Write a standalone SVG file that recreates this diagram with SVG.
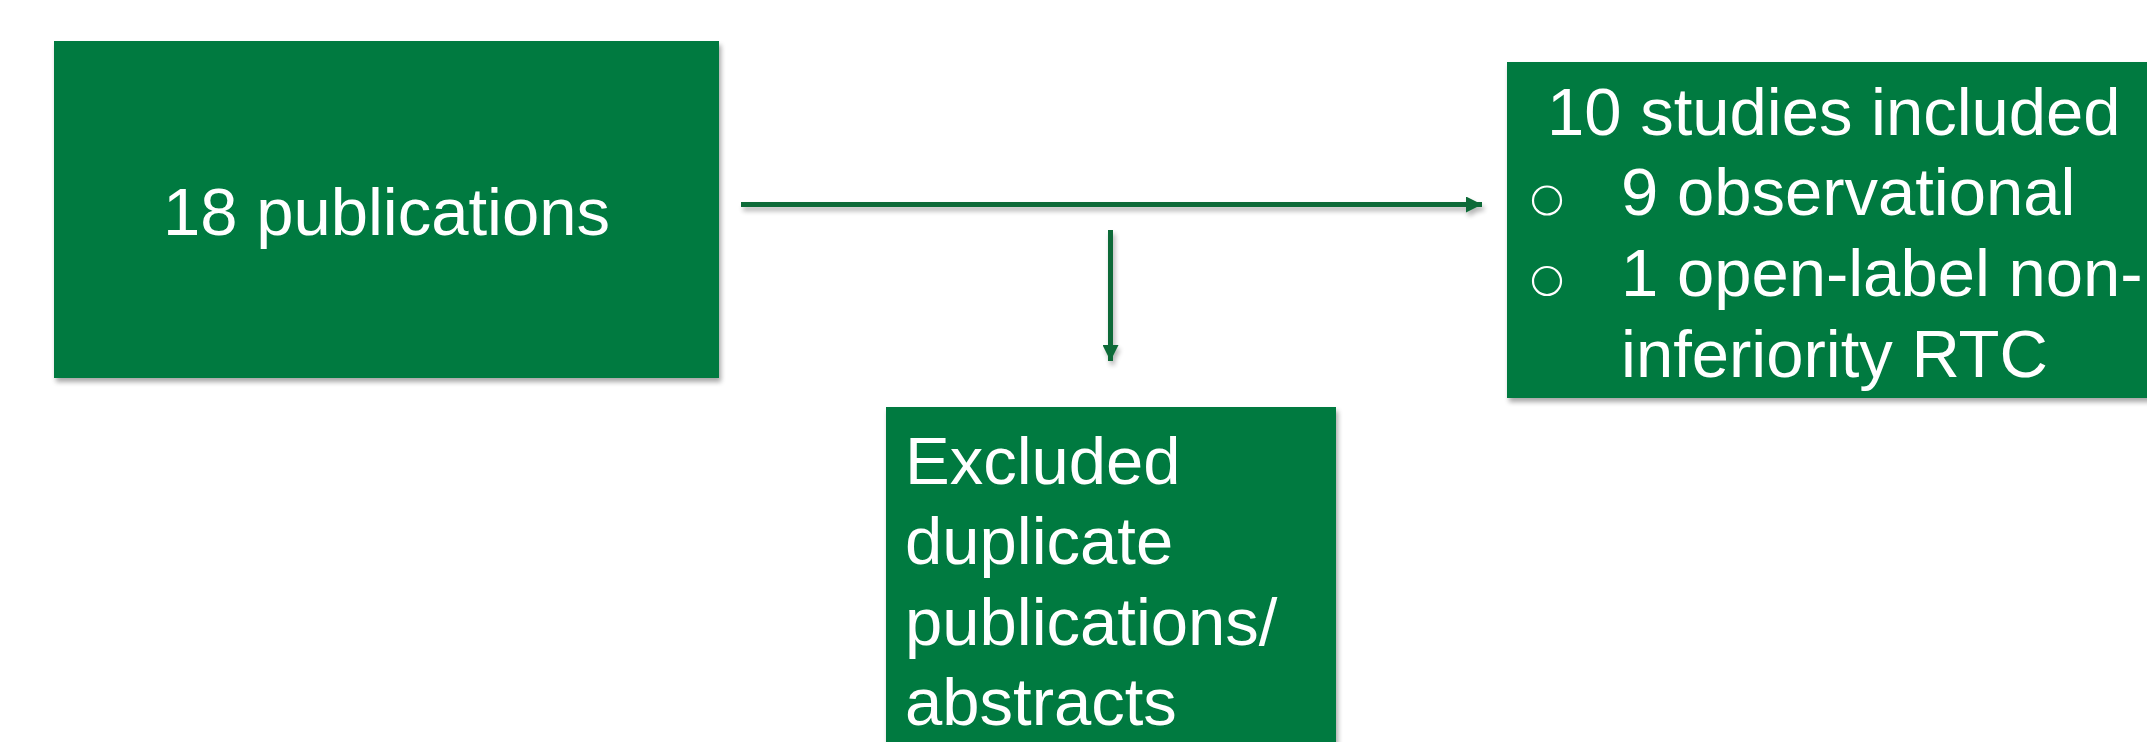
<svg xmlns="http://www.w3.org/2000/svg" width="2147" height="742" viewBox="0 0 2147 742">
  <style>
    .box { fill: #007A3F; filter: url(#shadow); }
    .txt { font-family: "Liberation Sans", Arial, sans-serif; font-size: 67px; fill: #FFFFFF; }
    .conn { stroke: #0A6B37; stroke-width: 5; fill: none; }
    .bullet { fill: none; stroke: #FFFFFF; stroke-width: 2.2; }
  </style>
  <defs>
    <filter id="shadow" x="-5%" y="-10%" width="115%" height="130%">
      <feGaussianBlur in="SourceAlpha" stdDeviation="2.5"/>
      <feOffset dx="1.5" dy="4" result="b"/>
      <feComponentTransfer><feFuncA type="linear" slope="0.35"/></feComponentTransfer>
      <feMerge><feMergeNode/><feMergeNode in="SourceGraphic"/></feMerge>
    </filter>
    <filter id="lshadow" filterUnits="userSpaceOnUse" x="0" y="0" width="2147" height="742">
      <feGaussianBlur in="SourceAlpha" stdDeviation="2.5"/>
      <feOffset dx="1.5" dy="4" result="b"/>
      <feComponentTransfer><feFuncA type="linear" slope="0.3"/></feComponentTransfer>
      <feMerge><feMergeNode/><feMergeNode in="SourceGraphic"/></feMerge>
    </filter>
    <marker id="arrow" markerWidth="16" markerHeight="16" refX="16" refY="8" orient="auto" markerUnits="userSpaceOnUse">
      <path d="M0,0 L16,8 L0,16 Z" fill="#0A6B37"/>
    </marker>
  </defs>
  <rect width="2147" height="742" fill="#FFFFFF"/>

  <g id="connectors" filter="url(#lshadow)">
    <line class="conn" x1="741" y1="204.5" x2="1482" y2="204.5" marker-end="url(#arrow)"/>
    <line class="conn" x1="1110.5" y1="230" x2="1110.5" y2="361" marker-end="url(#arrow)"/>
  </g>

  <g id="node-publications">
    <rect class="box" x="54" y="41" width="665" height="337"/>
    <text class="txt" x="386.5" y="235" text-anchor="middle">18 publications</text>
  </g>

  <g id="node-included">
    <rect class="box" x="1507" y="62" width="660" height="336"/>
    <text class="txt" x="1547" y="135">10 studies included</text>
    <circle class="bullet" cx="1547" cy="200.5" r="14"/>
    <text class="txt" x="1621" y="215">9 observational</text>
    <circle class="bullet" cx="1547" cy="281" r="14"/>
    <text class="txt" x="1621" y="296">1 open-label non-</text>
    <text class="txt" x="1621" y="377">inferiority RTC</text>
  </g>

  <g id="node-excluded">
    <rect class="box" x="886" y="407" width="450" height="345"/>
    <text class="txt" x="905" y="484">Excluded</text>
    <text class="txt" x="905" y="564">duplicate</text>
    <text class="txt" x="905" y="645">publications/</text>
    <text class="txt" x="905" y="725">abstracts</text>
  </g>
</svg>
